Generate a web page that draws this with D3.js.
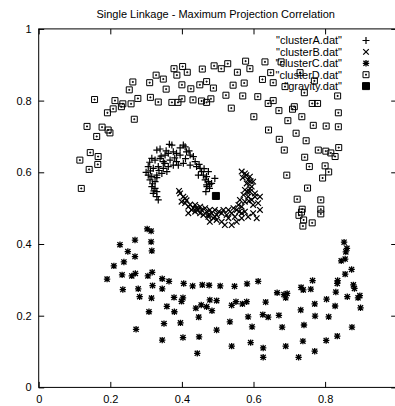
<!DOCTYPE html>
<html>
<head>
<meta charset="utf-8">
<script src="https://cdn.jsdelivr.net/npm/d3@7"></script>
<style>
  body { margin: 0; background: #fff; }
  svg { display: block; font-family: "Liberation Sans", Arial, Helvetica, sans-serif; }
</style>
</head>
<body>
<svg id="chart" width="395" height="406"></svg>
<script>
// values, [x, y]
const clusterA = [
  [0.365,0.678],[0.372,0.676],[0.404,0.676],[0.409,0.671],[0.330,0.662],[0.339,0.665],
  [0.353,0.648],[0.362,0.653],[0.376,0.657],[0.385,0.653],[0.395,0.648],[0.413,0.657],
  [0.423,0.648],[0.432,0.644],[0.316,0.639],[0.325,0.634],[0.339,0.639],[0.348,0.630],
  [0.367,0.634],[0.385,0.630],[0.404,0.625],[0.423,0.620],[0.441,0.616],[0.451,0.611],
  [0.306,0.616],[0.320,0.611],[0.334,0.616],[0.348,0.611],[0.362,0.616],[0.376,0.620],
  [0.390,0.620],[0.306,0.592],[0.316,0.588],[0.330,0.592],[0.344,0.597],[0.358,0.602],
  [0.311,0.579],[0.325,0.574],[0.316,0.560],[0.325,0.555],[0.330,0.546],[0.320,0.541],
  [0.330,0.532],[0.334,0.523],[0.455,0.602],[0.460,0.592],[0.469,0.588],[0.465,0.579],
  [0.474,0.574],[0.478,0.567],[0.469,0.565],[0.483,0.569],[0.477,0.555],[0.467,0.546],
  [0.492,0.583],[0.446,0.592],[0.474,0.602],[0.300,0.600],[0.310,0.628],[0.342,0.645],
  [0.356,0.660],[0.395,0.668],[0.420,0.660],[0.437,0.630],[0.448,0.622],[0.330,0.585],
  [0.318,0.568],[0.336,0.605],[0.352,0.625],[0.380,0.640],[0.410,0.638],[0.462,0.610],
  [0.470,0.560],[0.322,0.548],[0.312,0.604]
];
const clusterB = [
  [0.395,0.541],[0.404,0.532],[0.399,0.518],[0.409,0.514],[0.418,0.504],[0.427,0.495],
  [0.437,0.490],[0.451,0.486],[0.460,0.481],[0.474,0.476],[0.488,0.472],[0.478,0.462],
  [0.497,0.467],[0.418,0.486],[0.409,0.527],[0.441,0.500],[0.455,0.495],[0.469,0.490],
  [0.483,0.486],[0.497,0.481],[0.511,0.486],[0.525,0.481],[0.539,0.486],[0.553,0.495],
  [0.567,0.504],[0.576,0.518],[0.585,0.532],[0.590,0.546],[0.595,0.560],[0.599,0.574],
  [0.590,0.588],[0.576,0.597],[0.567,0.602],[0.604,0.541],[0.618,0.532],[0.613,0.514],
  [0.599,0.509],[0.618,0.495],[0.599,0.486],[0.585,0.476],[0.609,0.472],[0.567,0.472],
  [0.553,0.462],[0.539,0.453],[0.520,0.453],[0.511,0.462],[0.576,0.490],[0.562,0.523],
  [0.572,0.537],[0.576,0.551],[0.581,0.569],[0.585,0.579],[0.558,0.509],[0.544,0.500],
  [0.530,0.495],[0.516,0.495],[0.492,0.495],[0.478,0.495],[0.465,0.500],[0.451,0.504],
  [0.437,0.509],[0.590,0.555],[0.595,0.523],[0.604,0.532],[0.492,0.476],[0.474,0.481],
  [0.530,0.472],[0.548,0.476],[0.567,0.486],[0.392,0.548],[0.413,0.522],[0.423,0.510],
  [0.432,0.500],[0.445,0.494],[0.503,0.490],[0.560,0.490],[0.583,0.545],[0.592,0.575],
  [0.580,0.592],[0.570,0.585],[0.587,0.520]
];
const clusterC = [
  [0.303,0.442],[0.314,0.436],[0.227,0.398],[0.269,0.411],[0.314,0.406],[0.249,0.379],
  [0.316,0.381],[0.269,0.365],[0.210,0.339],[0.238,0.350],[0.233,0.314],[0.260,0.311],
  [0.270,0.318],[0.305,0.311],[0.317,0.321],[0.191,0.302],[0.345,0.303],[0.364,0.296],
  [0.235,0.273],[0.278,0.275],[0.318,0.284],[0.345,0.275],[0.405,0.290],[0.430,0.283],
  [0.457,0.286],[0.476,0.285],[0.282,0.253],[0.315,0.249],[0.378,0.251],[0.403,0.250],
  [0.399,0.240],[0.358,0.226],[0.379,0.211],[0.308,0.211],[0.439,0.221],[0.454,0.230],
  [0.469,0.225],[0.478,0.244],[0.447,0.196],[0.350,0.178],[0.396,0.180],[0.272,0.162],
  [0.345,0.132],[0.403,0.139],[0.448,0.141],[0.443,0.095],[0.507,0.283],[0.547,0.282],
  [0.582,0.289],[0.613,0.296],[0.484,0.214],[0.497,0.242],[0.539,0.229],[0.551,0.239],
  [0.569,0.233],[0.581,0.239],[0.634,0.238],[0.666,0.264],[0.685,0.259],[0.694,0.262],
  [0.690,0.250],[0.497,0.160],[0.534,0.183],[0.585,0.197],[0.596,0.169],[0.626,0.203],
  [0.641,0.196],[0.671,0.201],[0.680,0.168],[0.733,0.279],[0.739,0.272],[0.760,0.274],
  [0.765,0.298],[0.732,0.216],[0.771,0.233],[0.772,0.199],[0.741,0.174],[0.804,0.246],
  [0.828,0.227],[0.810,0.197],[0.830,0.266],[0.834,0.290],[0.835,0.298],[0.856,0.316],
  [0.874,0.329],[0.845,0.353],[0.856,0.358],[0.858,0.378],[0.861,0.388],[0.853,0.405],
  [0.879,0.286],[0.882,0.276],[0.862,0.253],[0.892,0.250],[0.897,0.256],[0.899,0.222],
  [0.875,0.168],[0.834,0.143],[0.803,0.131],[0.771,0.101],[0.738,0.129],[0.726,0.084],
  [0.690,0.115],[0.627,0.110],[0.627,0.084],[0.592,0.125],[0.539,0.115]
];
const clusterD = [
  [0.378,0.889],[0.402,0.895],[0.415,0.879],[0.386,0.871],[0.457,0.888],[0.490,0.897],
  [0.510,0.889],[0.528,0.903],[0.555,0.879],[0.578,0.910],[0.328,0.871],[0.348,0.860],
  [0.263,0.852],[0.310,0.850],[0.253,0.830],[0.356,0.832],[0.400,0.844],[0.425,0.833],
  [0.450,0.844],[0.469,0.853],[0.488,0.835],[0.543,0.843],[0.574,0.849],[0.156,0.803],
  [0.213,0.800],[0.235,0.791],[0.258,0.791],[0.277,0.806],[0.312,0.809],[0.334,0.796],
  [0.372,0.795],[0.389,0.795],[0.400,0.805],[0.431,0.802],[0.455,0.799],[0.469,0.795],
  [0.481,0.805],[0.523,0.815],[0.570,0.813],[0.208,0.777],[0.192,0.766],[0.231,0.783],
  [0.538,0.779],[0.267,0.748],[0.135,0.728],[0.177,0.726],[0.194,0.718],[0.199,0.710],
  [0.162,0.700],[0.144,0.655],[0.166,0.644],[0.115,0.634],[0.165,0.622],[0.141,0.608],
  [0.119,0.555],[0.632,0.908],[0.677,0.908],[0.590,0.889],[0.625,0.859],[0.648,0.878],
  [0.730,0.878],[0.770,0.855],[0.688,0.839],[0.742,0.822],[0.655,0.850],[0.612,0.811],
  [0.641,0.792],[0.655,0.800],[0.671,0.772],[0.709,0.776],[0.764,0.792],[0.779,0.792],
  [0.835,0.813],[0.601,0.755],[0.696,0.744],[0.735,0.755],[0.837,0.766],[0.767,0.731],
  [0.803,0.729],[0.837,0.727],[0.642,0.718],[0.719,0.709],[0.672,0.692],[0.747,0.688],
  [0.686,0.662],[0.781,0.662],[0.802,0.659],[0.816,0.654],[0.838,0.669],[0.828,0.644],
  [0.743,0.642],[0.756,0.616],[0.800,0.618],[0.810,0.601],[0.693,0.592],[0.793,0.584],
  [0.751,0.556],[0.722,0.525],[0.788,0.523],[0.736,0.497],[0.734,0.489],[0.727,0.480],
  [0.788,0.497],[0.788,0.484],[0.740,0.467],[0.764,0.459],[0.738,0.450],[0.714,0.783]
];
const gravity = [[0.495,0.534]];

const seriesNames = ['"clusterA.dat"','"clusterB.dat"','"clusterC.dat"','"clusterD.dat"','"gravity.dat"'];
// the x tick at 1 sits on the right border, which falls just outside the picture
const xTicks = [0, 0.2, 0.4, 0.6, 0.8];
const yTicks = [0, 0.2, 0.4, 0.6, 0.8, 1];
const title = "Single Linkage - Maximum Projection Correlation";

const svg = d3.select("#chart");
const plotLeft = 38.7, plotRight = 396.7, plotTop = 28.9, plotBottom = 387.4;
const x = d3.scaleLinear().domain([0, 1]).range([plotLeft, plotRight]);
const y = d3.scaleLinear().domain([0, 1]).range([plotBottom, plotTop]);
const fmt = d => String(+d.toFixed(1));

svg.append("rect").attr("width", 395).attr("height", 406).attr("fill", "#fff");

svg.append("text")
  .attr("x", (plotLeft + plotRight) / 2 - 2).attr("y", 17.5)
  .attr("text-anchor", "middle").attr("font-size", 11)
  .text(title);

// axes, ticks pointing into the plot like gnuplot
const tick = 5.5;
svg.append("g").attr("transform", `translate(0,${plotBottom})`)
  .call(d3.axisBottom(x).tickValues(xTicks).tickFormat(fmt).tickSizeInner(-tick).tickSizeOuter(0).tickPadding(8));
svg.append("g").attr("transform", `translate(${plotLeft},0)`)
  .call(d3.axisLeft(y).tickValues(yTicks).tickFormat(fmt).tickSizeInner(-tick).tickSizeOuter(0).tickPadding(7));
svg.append("g").attr("transform", `translate(0,${plotTop})`)
  .call(d3.axisTop(x).tickValues(xTicks).tickFormat("").tickSizeInner(-tick).tickSizeOuter(0));
svg.append("g").attr("transform", `translate(${plotRight},0)`)
  .call(d3.axisRight(y).tickValues(yTicks).tickFormat("").tickSizeInner(-tick).tickSizeOuter(0));
svg.selectAll(".domain").remove();
svg.selectAll(".tick line").attr("stroke", "#000");
svg.selectAll(".tick text").attr("fill", "#000").attr("font-size", 11)
  .attr("font-family", '"Liberation Sans", Arial, Helvetica, sans-serif');

svg.append("rect")
  .attr("x", plotLeft).attr("y", plotTop)
  .attr("width", plotRight - plotLeft).attr("height", plotBottom - plotTop)
  .attr("fill", "none").attr("stroke", "#000").attr("stroke-width", 1);

// point glyphs
const glyph = {
  plus: s => `M${-s},0H${s}M0,${-s}V${s}`,
  cross: s => `M${-s},${-s}L${s},${s}M${-s},${s}L${s},${-s}`,
  star: s => `M${-s},0H${s}M0,${-s}V${s}M${-s * 0.8},${-s * 0.8}L${s * 0.8},${s * 0.8}M${-s * 0.8},${s * 0.8}L${s * 0.8},${-s * 0.8}`,
  box: s => `M${-s},${-s}H${s}V${s}H${-s}ZM-0.5,-0.5h1v1h-1Z`,
  filled: s => `M${-s},${-s}H${s}V${s}H${-s}Z`
};
const series = [
  { name: seriesNames[0], data: clusterA, g: glyph.plus(3.5), fill: "none", sw: 1.2 },
  { name: seriesNames[1], data: clusterB, g: glyph.cross(2.8), fill: "none", sw: 1.2 },
  { name: seriesNames[2], data: clusterC, g: glyph.star(3.2), fill: "none", sw: 1.3 },
  { name: seriesNames[3], data: clusterD, g: glyph.box(3), fill: "none", sw: 1 },
  { name: seriesNames[4], data: gravity, g: glyph.filled(3.5), fill: "#000", sw: 1 }
];

const keyY = i => 40.5 + i * 11.4;
series.forEach((s, i) => {
  svg.append("text")
    .attr("x", 342).attr("y", keyY(i)).attr("dy", "0.35em")
    .attr("text-anchor", "end").attr("font-size", 11)
    .text(s.name);
  svg.append("path")
    .attr("transform", `translate(366,${keyY(i)})`)
    .attr("d", s.g).attr("fill", s.fill).attr("stroke", "#000").attr("stroke-width", s.sw);

  svg.append("g").selectAll("path")
    .data(s.data)
    .join("path")
    .attr("transform", d => `translate(${x(d[0])},${y(d[1])})`)
    .attr("d", s.g)
    .attr("fill", s.fill)
    .attr("stroke", "#000")
    .attr("stroke-width", s.sw);
});
</script>
</body>
</html>
